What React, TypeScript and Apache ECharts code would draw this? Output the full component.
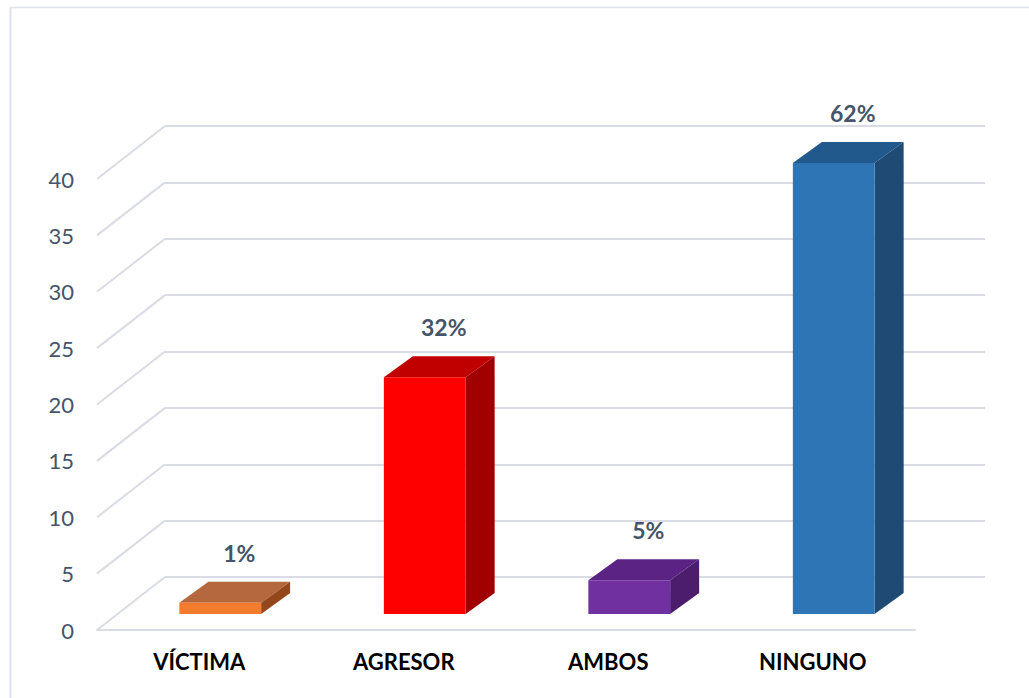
import React, { useEffect, useRef } from "react";
import * as echarts from "echarts";

const categories = ["VÍCTIMA", "AGRESOR", "AMBOS", "NINGUNO"];
const values = [1, 21, 3, 40];
const pctLabels = ["1%", "32%", "5%", "62%"];
const yTicks = [0, 5, 10, 15, 20, 25, 30, 35, 40];

const frontColors = ["#F27B2E", "#FF0000", "#7030A0", "#2E75B6"];
const topColors = ["#B5683E", "#C00000", "#5B2484", "#22598C"];
const sideColors = ["#94471A", "#A00000", "#4B1D6C", "#1E4A74"];

const WALL_DX = 68;
const WALL_DY = 53;
const BAR_DX = 21;
const BAR_DY = 16;
const DEPTH_X = 29;
const DEPTH_Y = 21;

export default function App() {
  const ref = useRef<HTMLDivElement>(null);
  useEffect(() => {
    if (!ref.current) return;
    const chart = echarts.init(ref.current, undefined, { renderer: "svg" });
    const gridColor = "#D9DCE4";
    chart.setOption({
      animation: false,
      backgroundColor: "#ffffff",
      graphic: [
        { type: "line", shape: { x1: 10.5, y1: 7, x2: 10.5, y2: 698 }, style: { stroke: "#DDE2EC", lineWidth: 2 } },
        { type: "line", shape: { x1: 10, y1: 7.5, x2: 1029, y2: 7.5 }, style: { stroke: "#DDE2EC", lineWidth: 1.5 } },
      ],
      grid: [
        { left: 97, top: 179, width: 818, height: 451 },
        { left: 97 + WALL_DX, top: 179 - WALL_DY, width: 820, height: 451 },
      ],
      xAxis: [
        {
          type: "category",
          gridIndex: 0,
          data: categories,
          axisLine: { show: true, lineStyle: { color: gridColor, width: 2 } },
          axisTick: { show: false },
          axisLabel: {
            margin: 20,
            color: "#000000",
            fontFamily: "Lato",
            fontWeight: "bold",
            fontSize: 22,
          },
        },
        {
          type: "category",
          gridIndex: 1,
          data: categories,
          show: false,
        },
      ],
      yAxis: [
        {
          type: "value",
          gridIndex: 0,
          min: 0,
          max: 40,
          interval: 5,
          axisLine: { show: false },
          axisTick: { show: false },
          splitLine: { show: false },
          axisLabel: { margin: 23, color: "#44546A", fontFamily: "Lato", fontSize: 22 },
        },
        {
          type: "value",
          gridIndex: 1,
          min: 0,
          max: 40,
          interval: 5,
          axisLine: { show: false },
          axisTick: { show: false },
          axisLabel: { show: false },
          splitLine: { show: true, lineStyle: { color: gridColor, width: 2 } },
        },
      ],
      series: [
        {
          type: "custom",
          xAxisIndex: 0,
          yAxisIndex: 0,
          silent: true,
          clip: false,
          data: yTicks.map((t) => [0, t]),
          renderItem: (params: any, api: any) => {
            const v = api.value(1);
            const p = api.coord([0, v]);
            const x = params.coordSys.x;
            return {
              type: "line",
              shape: { x1: x, y1: p[1], x2: x + WALL_DX, y2: p[1] - WALL_DY },
              style: { stroke: gridColor, lineWidth: 2 },
            };
          },
        },
        {
          type: "custom",
          xAxisIndex: 0,
          yAxisIndex: 0,
          clip: false,
          data: values.map((v, i) => [i, v]),
          renderItem: (params: any, api: any) => {
            const i = api.value(0);
            const v = api.value(1);
            const top = api.coord([i, v]);
            const base = api.coord([i, 0]);
            const band = api.size([1, 0])[0];
            const w = band * 0.4;
            const x0 = top[0] - w / 2 + BAR_DX;
            const x1 = x0 + w;
            const yt = top[1] - BAR_DY;
            const yb = base[1] - BAR_DY;
            const idx = params.dataIndex;
            return {
              type: "group",
              children: [
                {
                  type: "polygon",
                  shape: { points: [[x0, yt], [x1, yt], [x1 + DEPTH_X, yt - DEPTH_Y], [x0 + DEPTH_X, yt - DEPTH_Y]] },
                  style: { fill: topColors[idx] },
                },
                {
                  type: "polygon",
                  shape: { points: [[x1, yt], [x1 + DEPTH_X, yt - DEPTH_Y], [x1 + DEPTH_X, yb - DEPTH_Y], [x1, yb]] },
                  style: { fill: sideColors[idx] },
                },
                {
                  type: "rect",
                  shape: { x: x0, y: yt, width: w, height: yb - yt },
                  style: { fill: frontColors[idx] },
                },
                {
                  type: "text",
                  x: top[0] + BAR_DX + 19,
                  y: yt - 50,
                  style: {
                    text: pctLabels[idx],
                    fill: "#44546A",
                    font: "bold 23px Lato",
                    align: "center",
                    verticalAlign: "middle",
                  },
                },
              ],
            };
          },
        },
      ],
    });
    return () => chart.dispose();
  }, []);
  return (
    <div
      ref={ref}
      style={{ position: "fixed", left: 0, top: 0, width: 1029, height: 698 }}
    />
  );
}
